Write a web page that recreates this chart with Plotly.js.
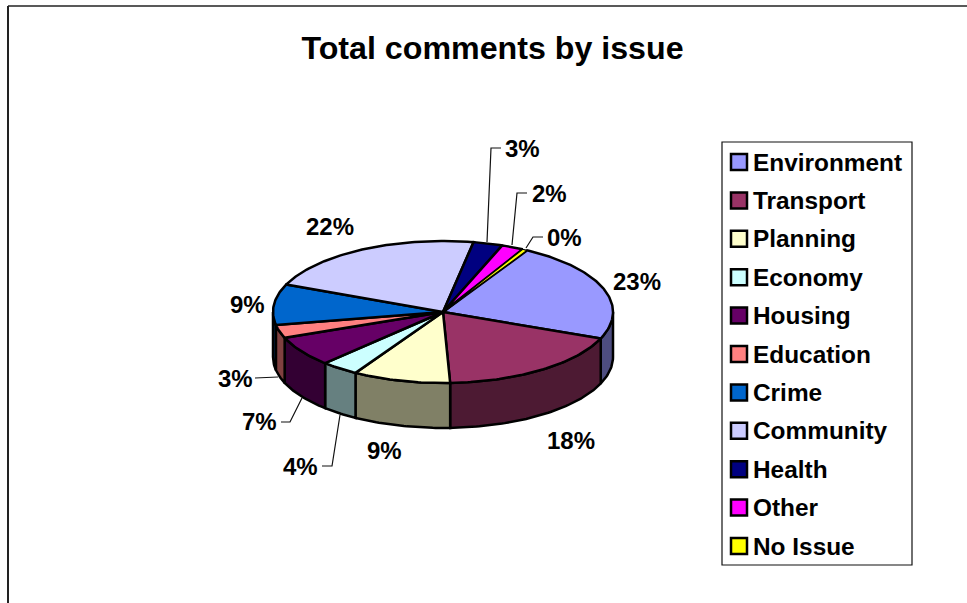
<!DOCTYPE html>
<html>
<head>
<meta charset="utf-8">
<script src="https://cdn.plot.ly/plotly-3.0.1.min.js"></script>
<style>html,body{margin:0;padding:0;background:#fff;overflow:hidden}#chart{width:967px;height:603px}</style>
</head>
<body>
<div id="chart"></div>
<script>
// Data
const categories = ['Environment','Transport','Planning','Economy','Housing','Education','Crime','Community','Health','Other','No Issue'];
const shares = [22.9,18.3,9.3,3.6,6.9,3.0,9.3,21.6,2.8,2.1,0.49];
const topColors = ['#9999FF','#993366','#FFFFCC','#CCFFFF','#660066','#FF8080','#0066CC','#CCCCFF','#000080','#FF00FF','#FFFF00'];
const wallColors = ['#4D4D80','#4D1A33','#808066','#668080','#330033','#804040','#003366','#666680','#000040','#800080','#808000'];
const chartTitle = 'Total comments by issue';

// Geometry of the tilted pie, in page pixels
const cx = 443, cy = 312, rx = 170, ry = 71, depth = 45, startAngle = 29.7;
// Label centres, in slice order
const labelX = [637,571,384,300,259,235,247,330,522,549,564];
const labelY = [281,440,450,466,421,378,304,226,148,193,237];
// Leader lines, in slice order (only the small slices have one)
const leaders = [
  [[340,415],[332,466],[322,466]],
  [[302,398],[290,422],[281,422]],
  [[278,377],[255,378]],
  [[487,242],[491,148],[501,148]],
  [[512,245],[517,193],[527,193]],
  [[526,248],[533,237],[543,237]]
];
const legendBox = {x0:722, x1:912, y0:142, y1:565};
const legendFirstY = 162, legendStep = 38.4, legendMarkerX = 739, legendTextX = 752;

const FONT = '"Liberation Sans", Arial, sans-serif';
const px = a => cx + rx * Math.sin(a * Math.PI / 180);
const py = (a, dz) => cy + (dz || 0) - ry * Math.cos(a * Math.PI / 180);
const arc = (a0, a1, dz) => {
  const n = Math.max(2, Math.ceil(Math.abs(a1 - a0)));
  const xs = [], ys = [];
  for (let i = 0; i <= n; i++) { const a = a0 + (a1 - a0) * i / n; xs.push(px(a)); ys.push(py(a, dz)); }
  return [xs, ys];
};

const total = shares.reduce((s, v) => s + v, 0);
const traces = [];
let angle = startAngle;
const spans = shares.map(v => { const a0 = angle; angle += v / total * 360; return [a0, angle]; });

// Side walls: only the front half of the rim (90 to 270 degrees) shows
spans.forEach(([a0, a1], i) => {
  const w0 = Math.max(a0, 90), w1 = Math.min(a1, 270);
  if (w1 <= w0) return;
  const [tx, ty] = arc(w0, w1, 0);
  const [bx, by] = arc(w1, w0, depth);
  traces.push({type:'scatter', mode:'lines', x:tx.concat(bx, [tx[0]]), y:ty.concat(by, [ty[0]]),
    fill:'toself', fillcolor:wallColors[i], line:{color:'#000', width:2.5}, hoverinfo:'skip', showlegend:false});
});
// Top faces
spans.forEach(([a0, a1], i) => {
  const [ax, ay] = arc(a0, a1, 0);
  const thin = a1 - a0 < 3;
  traces.push({type:'scatter', mode:'lines', x:[cx].concat(ax, [cx]), y:[cy].concat(ay, [cy]),
    fill:'toself', fillcolor:topColors[i], line:{color:'#000', width:thin ? 1.2 : 2.5}, name:categories[i], hoverinfo:'name', showlegend:false});
});
// Leader lines
const lx = [], ly = [];
leaders.forEach(l => { l.forEach(p => { lx.push(p[0]); ly.push(p[1]); }); lx.push(null); ly.push(null); });
traces.push({type:'scatter', mode:'lines', x:lx, y:ly, line:{color:'#111', width:1.2}, hoverinfo:'skip', showlegend:false});
// Legend swatches
traces.push({type:'scatter', mode:'markers', x:categories.map(() => legendMarkerX), y:categories.map((c, i) => legendFirstY + i * legendStep),
  marker:{symbol:'square', size:16, color:topColors, line:{color:'#000', width:2.5}}, text:categories, hoverinfo:'text', showlegend:false});

const annotations = [];
shares.forEach((v, i) => annotations.push({x:labelX[i], y:labelY[i], xref:'x', yref:'y', showarrow:false, borderpad:0,
  text:Math.round(v / total * 100) + '%', xanchor:'center', yanchor:'middle', font:{family:FONT, size:24, color:'#000', weight:'bold'}}));
categories.forEach((c, i) => annotations.push({x:legendTextX, y:legendFirstY + i * legendStep, xref:'x', yref:'y', showarrow:false, borderpad:0,
  text:c, xanchor:'left', yanchor:'middle', font:{family:FONT, size:24.4, color:'#000', weight:'bold'}}));

const layout = {
  width:967, height:603, margin:{l:0, r:0, t:0, b:0}, paper_bgcolor:'#fff', plot_bgcolor:'#fff', showlegend:false, hovermode:'closest',
  title:{text:chartTitle, font:{family:FONT, size:32.2, color:'#000', weight:'bold'}, x:492.5/967, xanchor:'center', y:1-48/603, yanchor:'middle'},
  xaxis:{range:[0,967], visible:false, fixedrange:true},
  yaxis:{range:[603,0], visible:false, fixedrange:true},
  annotations:annotations,
  shapes:[
    {type:'rect', xref:'x', yref:'y', x0:legendBox.x0, x1:legendBox.x1, y0:legendBox.y0, y1:legendBox.y1, line:{color:'#111', width:1.2}, fillcolor:'#fff', layer:'below'},
    {type:'line', xref:'x', yref:'y', x0:8, x1:967, y0:6, y1:6, line:{color:'#222', width:1.5}},
    {type:'line', xref:'x', yref:'y', x0:8, x1:8, y0:6, y1:603, line:{color:'#222', width:2}}
  ]
};
Plotly.newPlot('chart', traces, layout, {displayModeBar:false, responsive:false});
</script>
</body>
</html>
